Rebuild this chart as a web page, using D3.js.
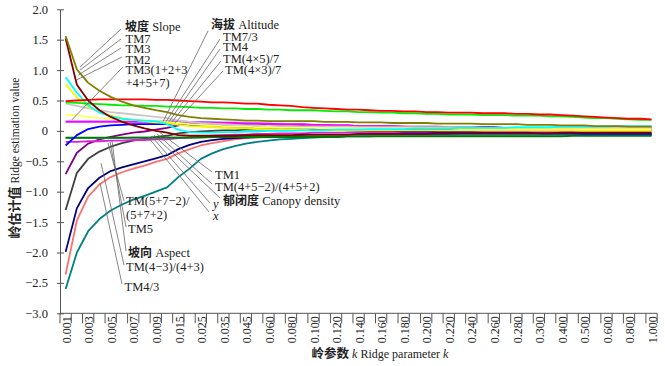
<!DOCTYPE html>
<html>
<head>
<meta charset="utf-8">
<script src="https://cdn.jsdelivr.net/npm/d3@7"></script>
<style>
  body { margin: 0; background: #fff; }
  svg text { font-family: "Liberation Serif", "Noto Sans CJK SC", serif; fill: #222; }
  .cjk { font-family: "Noto Sans CJK SC", sans-serif; font-weight: bold; }
</style>
</head>
<body>
<div id="chart"></div>
<script>
// ridge parameter k (53 steps); every other one gets a tick label
const kValues = [0.001,0.002,0.003,0.004,0.005,0.006,0.007,0.008,0.009,0.010,
  0.015,0.020,0.025,0.030,0.035,0.040,0.045,0.050,0.060,0.070,
  0.080,0.090,0.100,0.110,0.120,0.130,0.140,0.150,0.160,0.170,
  0.180,0.190,0.200,0.210,0.220,0.230,0.240,0.250,0.260,0.270,
  0.280,0.290,0.300,0.350,0.400,0.450,0.500,0.550,0.600,0.700,
  0.800,0.900,1.000];
const tickKs = [0.001,0.003,0.005,0.007,0.009,0.015,0.025,0.035,0.045,0.060,0.080,0.100,
  0.120,0.140,0.160,0.180,0.200,0.220,0.240,0.260,0.280,0.300,0.400,0.500,0.600,0.800,1.000];
const yTicks = [2, 1.5, 1, 0.5, 0, -0.5, -1, -1.5, -2, -2.5, -3];

// ridge traces, one array per variable
const olive = [1.56,1.01,0.79,0.66,0.56,0.48,0.42,0.38,0.34,0.31,
  0.26,0.23,0.21,0.20,0.19,0.18,0.17,0.17,0.16,0.16,
  0.16,0.16,0.16,0.15,0.15,0.15,0.14,0.14,0.14,0.13,
  0.13,0.13,0.13,0.12,0.12,0.12,0.12,0.11,0.11,0.11,
  0.11,0.10,0.10,0.10,0.09,0.09,0.09,0.08,0.08,0.08,
  0.07,0.07,0.07];
const maroon = [1.52,0.76,0.50,0.34,0.23,0.15,0.09,0.04,0.00,-0.03,
  -0.07,-0.08,-0.08,-0.08,-0.08,-0.08,-0.07,-0.07,-0.07,-0.07,
  -0.07,-0.06,-0.06,-0.06,-0.06,-0.06,-0.05,-0.05,-0.05,-0.05,
  -0.05,-0.05,-0.05,-0.04,-0.04,-0.04,-0.04,-0.04,-0.04,-0.04,
  -0.04,-0.04,-0.04,-0.04,-0.03,-0.03,-0.03,-0.03,-0.03,-0.03,
  -0.03,-0.03,-0.03];
const cyan = [0.88,0.63,0.42,0.30,0.24,0.20,0.18,0.17,0.16,0.11,
  0.02,-0.02,-0.03,-0.03,-0.02,-0.02,-0.01,-0.01,0.00,0.00,
  0.00,0.01,0.01,0.01,0.02,0.02,0.02,0.03,0.03,0.03,
  0.03,0.04,0.04,0.04,0.04,0.05,0.05,0.05,0.05,0.05,
  0.06,0.06,0.06,0.06,0.07,0.07,0.07,0.07,0.07,0.08,
  0.08,0.08,0.08];
const yellow = [0.77,0.55,0.40,0.31,0.25,0.21,0.18,0.16,0.14,0.13,
  0.10,0.08,0.07,0.06,0.05,0.04,0.04,0.03,0.03,0.02,
  0.02,0.02,0.01,0.01,0.01,0.01,0.01,0.01,0.01,0.01,
  0.01,0.01,0.01,0.01,0.01,0.01,0.01,0.01,0.01,0.01,
  0.01,0.01,0.01,0.01,0.01,0.01,0.00,0.00,0.00,0.00,
  0.00,0.00,0.00];
const paleYellow = [0.27,0.25,0.23,0.21,0.20,0.19,0.18,0.17,0.16,0.15,
  0.13,0.11,0.10,0.09,0.08,0.07,0.07,0.06,0.06,0.05,
  0.05,0.05,0.05,0.04,0.04,0.04,0.04,0.04,0.04,0.04,
  0.04,0.04,0.04,0.04,0.04,0.03,0.03,0.03,0.03,0.03,
  0.03,0.03,0.03,0.03,0.03,0.03,0.03,0.03,0.03,0.03,
  0.03,0.03,0.03];
const gray = [0.45,0.41,0.37,0.34,0.31,0.29,0.27,0.25,0.23,0.21,
  0.17,0.15,0.13,0.12,0.11,0.10,0.09,0.09,0.08,0.08,
  0.08,0.07,0.07,0.07,0.07,0.07,0.06,0.06,0.06,0.06,
  0.06,0.06,0.06,0.06,0.06,0.06,0.06,0.05,0.05,0.05,
  0.05,0.05,0.05,0.05,0.05,0.05,0.05,0.05,0.05,0.05,
  0.05,0.05,0.05];
const red = [0.49,0.50,0.51,0.52,0.52,0.52,0.52,0.52,0.51,0.51,
  0.50,0.49,0.48,0.47,0.47,0.46,0.45,0.45,0.43,0.42,
  0.41,0.39,0.38,0.37,0.36,0.35,0.35,0.34,0.33,0.33,
  0.32,0.32,0.31,0.31,0.30,0.30,0.30,0.29,0.29,0.29,
  0.28,0.28,0.27,0.27,0.26,0.25,0.24,0.23,0.22,0.21,
  0.20,0.20,0.19];
const green = [0.47,0.46,0.45,0.44,0.43,0.42,0.42,0.41,0.41,0.40,
  0.40,0.39,0.38,0.38,0.37,0.37,0.36,0.36,0.35,0.35,
  0.34,0.34,0.34,0.33,0.32,0.32,0.31,0.31,0.30,0.30,
  0.29,0.29,0.28,0.28,0.27,0.27,0.27,0.26,0.26,0.26,
  0.25,0.25,0.25,0.24,0.24,0.23,0.22,0.21,0.21,0.20,
  0.19,0.18,0.18];
const magenta = [0.15,0.15,0.15,0.15,0.15,0.15,0.15,0.15,0.15,0.15,
  0.14,0.14,0.14,0.13,0.13,0.13,0.12,0.12,0.12,0.11,
  0.11,0.11,0.10,0.10,0.09,0.09,0.08,0.08,0.08,0.07,
  0.07,0.06,0.06,0.06,0.05,0.05,0.05,0.04,0.04,0.04,
  0.04,0.03,0.03,0.03,0.03,0.02,0.02,0.02,0.02,0.02,
  0.02,0.02,0.02];
const lavender = [0.16,0.16,0.16,0.16,0.16,0.16,0.16,0.16,0.16,0.16,
  0.16,0.15,0.15,0.15,0.14,0.14,0.13,0.13,0.12,0.12,
  0.11,0.11,0.10,0.10,0.09,0.09,0.08,0.08,0.07,0.07,
  0.06,0.06,0.05,0.05,0.05,0.04,0.04,0.04,0.03,0.03,
  0.03,0.02,0.02,0.02,0.01,0.01,0.01,0.01,0.00,0.00,
  0.00,0.00,0.00];
const blue = [-0.24,-0.07,0.03,0.07,0.09,0.10,0.11,0.11,0.11,0.11,
  0.10,0.10,0.09,0.09,0.08,0.07,0.07,0.06,0.05,0.05,
  0.04,0.03,0.03,0.02,0.02,0.01,0.01,0.00,0.00,0.00,
  -0.01,-0.01,-0.01,-0.02,-0.02,-0.02,-0.02,-0.03,-0.03,-0.03,
  -0.03,-0.03,-0.04,-0.04,-0.04,-0.04,-0.05,-0.05,-0.05,-0.05,
  -0.05,-0.05,-0.05];
const darkGreen = [-0.11,-0.11,-0.11,-0.11,-0.11,-0.11,-0.11,-0.11,-0.11,-0.11,
  -0.11,-0.11,-0.11,-0.10,-0.10,-0.10,-0.10,-0.10,-0.10,-0.10,
  -0.10,-0.10,-0.10,-0.10,-0.10,-0.09,-0.09,-0.09,-0.09,-0.09,
  -0.09,-0.09,-0.09,-0.09,-0.09,-0.09,-0.09,-0.09,-0.09,-0.09,
  -0.09,-0.09,-0.09,-0.09,-0.09,-0.08,-0.08,-0.08,-0.08,-0.08,
  -0.08,-0.08,-0.08];
const seaGreen = [-0.12,-0.12,-0.12,-0.12,-0.12,-0.12,-0.11,-0.11,-0.11,-0.11,
  -0.11,-0.11,-0.10,-0.10,-0.10,-0.10,-0.09,-0.09,-0.09,-0.09,
  -0.09,-0.09,-0.08,-0.08,-0.08,-0.08,-0.08,-0.08,-0.08,-0.08,
  -0.08,-0.08,-0.08,-0.08,-0.08,-0.07,-0.07,-0.07,-0.07,-0.07,
  -0.07,-0.07,-0.07,-0.07,-0.07,-0.07,-0.07,-0.07,-0.07,-0.07,
  -0.07,-0.07,-0.07];
const pinkLow = [-0.18,-0.18,-0.17,-0.17,-0.16,-0.16,-0.15,-0.15,-0.14,-0.14,
  -0.12,-0.11,-0.09,-0.08,-0.07,-0.06,-0.06,-0.05,-0.05,-0.04,
  -0.04,-0.04,-0.03,-0.03,-0.03,-0.03,-0.02,-0.02,-0.02,-0.02,
  -0.02,-0.02,-0.02,-0.02,-0.02,-0.02,-0.02,-0.02,-0.02,-0.02,
  -0.02,-0.02,-0.02,-0.02,-0.02,-0.02,-0.03,-0.03,-0.03,-0.03,
  -0.03,-0.03,-0.03];
const purple = [-0.71,-0.36,-0.21,-0.14,-0.10,-0.06,-0.03,-0.01,0.02,0.05,
  0.09,0.11,0.12,0.12,0.12,0.12,0.11,0.11,0.11,0.10,
  0.10,0.10,0.10,0.09,0.09,0.09,0.08,0.08,0.08,0.08,
  0.07,0.07,0.07,0.07,0.06,0.06,0.06,0.06,0.06,0.05,
  0.05,0.05,0.05,0.05,0.04,0.04,0.04,0.04,0.04,0.04,
  0.04,0.04,0.04];
const darkGray = [-1.30,-0.69,-0.46,-0.34,-0.26,-0.20,-0.16,-0.13,-0.10,-0.08,
  -0.04,-0.02,-0.01,0.00,0.01,0.01,0.02,0.02,0.02,0.02,
  0.02,0.02,0.02,0.02,0.02,0.02,0.02,0.02,0.02,0.02,
  0.02,0.02,0.02,0.02,0.02,0.02,0.02,0.02,0.02,0.02,
  0.02,0.02,0.02,0.02,0.02,0.02,0.02,0.02,0.02,0.02,
  0.02,0.02,0.02];
const navy = [-1.99,-1.27,-0.94,-0.77,-0.66,-0.60,-0.55,-0.50,-0.45,-0.40,
  -0.30,-0.23,-0.18,-0.15,-0.13,-0.12,-0.11,-0.10,-0.09,-0.09,
  -0.09,-0.08,-0.08,-0.08,-0.08,-0.08,-0.07,-0.07,-0.07,-0.07,
  -0.07,-0.07,-0.07,-0.07,-0.07,-0.07,-0.07,-0.07,-0.07,-0.07,
  -0.07,-0.07,-0.07,-0.06,-0.06,-0.06,-0.06,-0.06,-0.06,-0.06,
  -0.06,-0.06,-0.06];
const salmon = [-2.36,-1.47,-1.08,-0.88,-0.76,-0.68,-0.62,-0.57,-0.51,-0.46,
  -0.37,-0.30,-0.24,-0.20,-0.17,-0.14,-0.12,-0.11,-0.10,-0.09,
  -0.09,-0.08,-0.08,-0.08,-0.07,-0.07,-0.07,-0.07,-0.07,-0.07,
  -0.07,-0.07,-0.06,-0.06,-0.06,-0.06,-0.06,-0.06,-0.06,-0.06,
  -0.06,-0.06,-0.06,-0.06,-0.06,-0.05,-0.05,-0.05,-0.05,-0.05,
  -0.05,-0.05,-0.05];
const teal = [-2.60,-2.00,-1.65,-1.45,-1.31,-1.21,-1.13,-1.07,-1.00,-0.93,
  -0.76,-0.62,-0.46,-0.37,-0.30,-0.25,-0.21,-0.18,-0.16,-0.14,
  -0.13,-0.12,-0.11,-0.10,-0.10,-0.09,-0.09,-0.09,-0.08,-0.08,
  -0.08,-0.08,-0.08,-0.08,-0.08,-0.08,-0.08,-0.08,-0.07,-0.07,
  -0.07,-0.07,-0.07,-0.07,-0.07,-0.07,-0.07,-0.07,-0.07,-0.07,
  -0.07,-0.07,-0.07];

// draw order and colours
const series = [
  {values: teal, color: '#008080'},
  {values: salmon, color: '#ff7070'},
  {values: navy, color: '#000080'},
  {values: darkGray, color: '#404040'},
  {values: purple, color: '#800080'},
  {values: pinkLow, color: '#e020e0'},
  {values: seaGreen, color: '#33a070'},
  {values: darkGreen, color: '#007a00'},
  {values: blue, color: '#0000ff'},
  {values: lavender, color: '#b38cff'},
  {values: magenta, color: '#ff00ff'},
  {values: gray, color: '#c8c8c8'},
  {values: paleYellow, color: '#ffff66'},
  {values: yellow, color: '#f5f500'},
  {values: cyan, color: '#00ffff'},
  {values: green, color: '#00ee00'},
  {values: red, color: '#ff0000'},
  {values: maroon, color: '#800000'},
  {values: olive, color: '#808000'}
];

// labels: text parts per line ([cjk, latin]), text position (px), leader start (px), leader end (k index, value)
const annotations = [
  {lines: [['坡度', ' Slope']], at: [125, 30.5], from: [121, 29], to: [1.28, 1.05]},
  {lines: [['', 'TM7']], at: [125.5, 43], from: [121, 39], to: [1.28, 1.0]},
  {lines: [['', 'TM3']], at: [125.5, 53], from: [121, 48], to: [1.13, 0.92]},
  {lines: [['', 'TM2']], at: [125.5, 63.5], from: [122, 57], to: [0.98, 0.84]},
  {lines: [['', 'TM3(1+2+3'], ['', '+4+5+7)']], at: [125.5, 73.5], from: [123, 67], to: [0.54, 0.18]},
  {lines: [['海拔', ' Altitude']], at: [211, 28.5], from: [208, 31], to: [8.64, 0.15]},
  {lines: [['', 'TM7/3']], at: [223, 40.5], from: [220, 39], to: [8.9, 0.15]},
  {lines: [['', 'TM4']], at: [223, 50.5], from: [220, 49], to: [9.17, 0.15]},
  {lines: [['', 'TM(4×5)/7']], at: [223, 63], from: [221, 61], to: [9.44, 0.15]},
  {lines: [['', 'TM(4×3)/7']], at: [225, 73.5], from: [223, 71], to: [9.71, 0.13]},
  {lines: [['', 'TM1']], at: [215, 179], from: [212, 172], to: [8.38, -0.03]},
  {lines: [['', 'TM(4+5−2)/(4+5+2)']], at: [215, 191], from: [212, 184], to: [8.11, -0.05]},
  {lines: [['郁闭度', ' Canopy density']], at: [223, 204.5], from: [220, 198], to: [7.84, -0.07]},
  {lines: [['', 'y']], at: [213, 207.5], from: [210, 203], to: [7.58, -0.08], italic: true},
  {lines: [['', 'x']], at: [213, 220], from: [209, 212], to: [7.31, -0.1], italic: true},
  {lines: [['', 'TM(5+7−2)/'], ['', '(5+7+2)']], at: [126, 205], from: [124, 201], to: [3.76, -0.2]},
  {lines: [['', 'TM5']], at: [128, 233], from: [126, 227], to: [3.94, -0.18]},
  {lines: [['坡向', ' Aspect']], at: [128, 257], from: [126, 251], to: [4.12, -0.17]},
  {lines: [['', 'TM(4−3)/(4+3)']], at: [126, 271], from: [124, 265], to: [3.14, -0.53]},
  {lines: [['', 'TM4/3']], at: [124.5, 290.5], from: [122, 284], to: [3.05, -0.86]}
];

const width = 665, height = 366;
const svg = d3.select('#chart').append('svg')
  .attr('width', width)
  .attr('height', height);

const x = d3.scaleBand()
  .domain(kValues)
  .range([60, 657.2])
  .padding(0);
const xc = k => x(k) + x.bandwidth() / 2;
const xi = i => xc(kValues[0]) + i * x.step();

const y = d3.scaleLinear()
  .domain([-3, 2])
  .range([313.3, 9.3]);

// y axis
const fmtY = d => d === 0 ? '0' : d3.format('.1f')(d).replace('-', '\u2212');
const yAxis = svg.append('g')
  .attr('transform', 'translate(60,0)')
  .call(d3.axisLeft(y).tickValues(yTicks).tickFormat(fmtY).tickSizeOuter(0).tickPadding(6));
yAxis.select('.domain').attr('stroke', '#555');
yAxis.selectAll('.tick line').attr('x1', -3).attr('x2', 4).attr('stroke', '#555');
yAxis.selectAll('.tick text')
  .style('font-size', '12.5px')
  .style('font-family', '"Liberation Serif", serif')
  .attr('fill', '#222');

// x axis: ticks sit between categories, labels on every other one
const xAxis = svg.append('g');
xAxis.append('line')
  .attr('x1', x.range()[0]).attr('x2', x.range()[1])
  .attr('y1', y(-3)).attr('y2', y(-3))
  .attr('stroke', '#555');
const bounds = kValues.map(k => x(k)).concat([x.range()[1]]);
xAxis.selectAll('line.xt')
  .data(bounds)
  .join('line')
  .attr('class', 'xt')
  .attr('x1', d => d).attr('x2', d => d)
  .attr('y1', y(-3)).attr('y2', y(-3) + 10)
  .attr('stroke', '#555');
xAxis.selectAll('text.xl')
  .data(tickKs)
  .join('text')
  .attr('class', 'xl')
  .attr('transform', d => `translate(${xc(d) + 1},${y(-3) + 3}) rotate(-90)`)
  .attr('text-anchor', 'end')
  .attr('dy', '0.35em')
  .style('font-size', '12px')
  .text(d => d3.format('.3f')(d));

// curves
const line = d3.line()
  .x((d, i) => xc(kValues[i]))
  .y(d => y(d));
svg.append('g')
  .selectAll('path')
  .data(series)
  .join('path')
  .attr('d', d => line(d.values))
  .attr('fill', 'none')
  .attr('stroke', d => d.color)
  .attr('stroke-width', 1.8)
  .attr('stroke-linejoin', 'round');

// leaders and labels
const ann = svg.append('g');
ann.selectAll('line')
  .data(annotations)
  .join('line')
  .attr('x1', d => d.from[0]).attr('y1', d => d.from[1])
  .attr('x2', d => xi(d.to[0])).attr('y2', d => y(d.to[1]))
  .attr('stroke', '#666')
  .attr('stroke-width', 0.8);
ann.selectAll('text')
  .data(annotations)
  .join('text')
  .attr('x', d => d.at[0])
  .attr('y', d => d.at[1])
  .style('font-size', '12.5px')
  .style('font-style', d => d.italic ? 'italic' : 'normal')
  .each(function (d) {
    const t = d3.select(this);
    d.lines.forEach((parts, i) => {
      const first = t.append('tspan')
        .attr('x', d.at[0])
        .attr('dy', i === 0 ? 0 : 13.5);
      if (parts[0]) {
        first.attr('class', 'cjk').style('font-size', '12px').text(parts[0]);
        t.append('tspan').text(parts[1]);
      } else {
        first.text(parts[1]);
      }
    });
  });

// axis titles
const yTitle = svg.append('text')
  .attr('transform', 'translate(19,158) rotate(-90)')
  .attr('text-anchor', 'middle');
yTitle.append('tspan').attr('class', 'cjk').style('font-size', '13px').text('岭估计值');
yTitle.append('tspan').style('font-size', '11.5px').text(' Ridge estimation value');

const xTitle = svg.append('text')
  .attr('x', 380)
  .attr('y', 358)
  .attr('text-anchor', 'middle')
  .style('font-size', '12px');
xTitle.append('tspan').attr('class', 'cjk').style('font-size', '12.5px').text('岭参数');
xTitle.append('tspan').text(' ');
xTitle.append('tspan').style('font-style', 'italic').text('k');
xTitle.append('tspan').text(' Ridge parameter ');
xTitle.append('tspan').style('font-style', 'italic').text('k');
</script>
</body>
</html>
